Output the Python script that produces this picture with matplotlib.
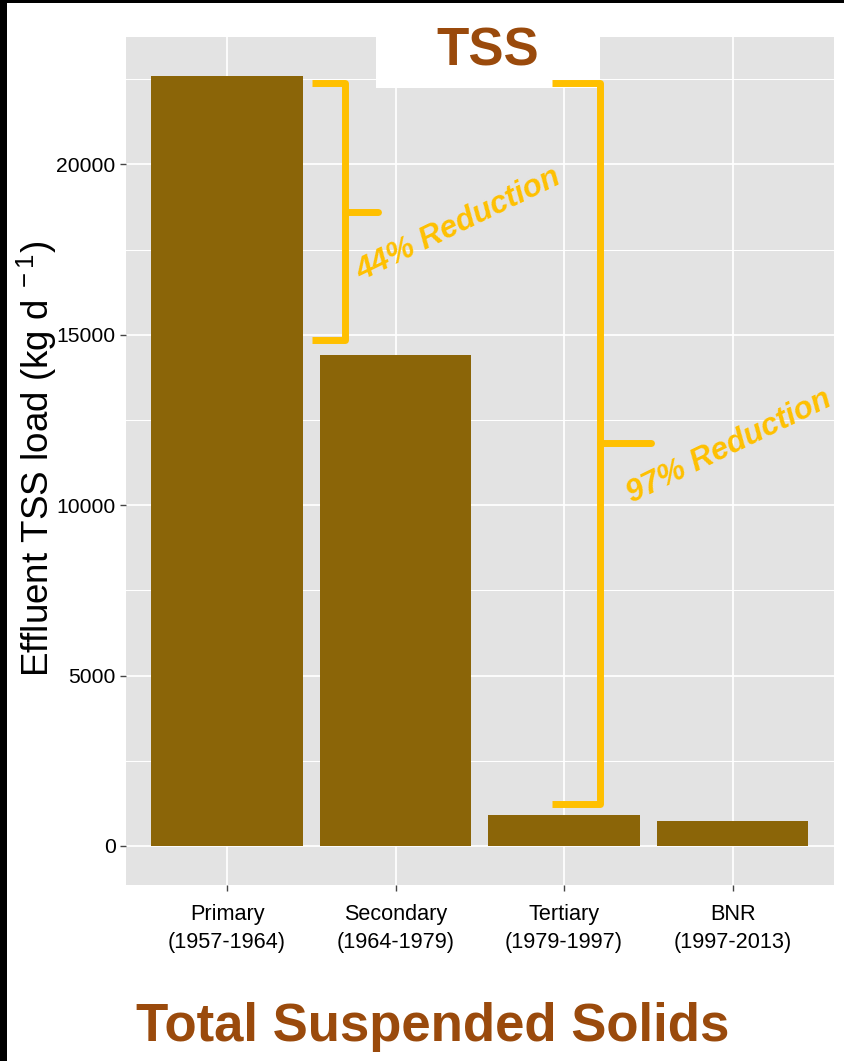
import matplotlib
matplotlib.use("Agg")
import matplotlib.pyplot as plt
from matplotlib import font_manager
from matplotlib.ticker import FixedLocator, MultipleLocator
from matplotlib.patches import Rectangle

# ---------------- data ----------------
categories = ["Primary\n(1957-1964)", "Secondary\n(1964-1979)",
              "Tertiary\n(1979-1997)", "BNR\n(1997-2013)"]
tss_load = [22600, 14420, 900, 725]
y_ticks = [0, 5000, 10000, 15000, 20000]
reduction_labels = ["44% Reduction", "97% Reduction"]
title_top = "TSS"
title_bottom = "Total Suspended Solids"
y_label = r"Effluent TSS load (kg d$^{\ -1}$)"

# ---------------- style ----------------
BAR = "#8B6508"
GOLD = "#FFC000"
BROWN = "#9A4A0C"
PANEL = "#E3E3E3"

names = {f.name for f in font_manager.fontManager.ttflist}
NARROW = "Liberation Sans Narrow" in names
base = "Liberation Sans"
tick_family = "Liberation Sans Narrow" if NARROW else base
ytick_size = 17.4 if NARROW else 15.2
xtick_size = 17.9 if NARROW else 15.6

plt.rcParams["font.family"] = [base, "DejaVu Sans"]
plt.rcParams["mathtext.fontset"] = "custom"
plt.rcParams["mathtext.rm"] = base
plt.rcParams["mathtext.it"] = base + ":italic"
plt.rcParams["mathtext.bf"] = base + ":bold"

W, H = 844, 1061
fig = plt.figure(figsize=(W / 100, H / 100), dpi=100)
fig.patch.set_facecolor("white")

def fx(px):
    return px / W

def fy(py):
    return 1 - py / H

ax_l, ax_r, ax_t, ax_b = 126, 833.7, 37.3, 884.5
ax = fig.add_axes([fx(ax_l), fy(ax_b), (ax_r - ax_l) / W, (ax_b - ax_t) / H])
ax.set_facecolor(PANEL)

xpos = list(range(1, len(categories) + 1))
ax.bar(xpos, tss_load, width=0.9, color=BAR, zorder=2)

ymax = max(tss_load)
ax.set_ylim(-0.05 * ymax, 1.05 * ymax)
ax.set_xlim(0.4, len(categories) + 0.6)

ax.yaxis.set_major_locator(FixedLocator(y_ticks))
ax.yaxis.set_minor_locator(MultipleLocator(2500))
ax.set_xticks(xpos)
ax.set_xticklabels(categories, fontsize=xtick_size, family=tick_family,
                   linespacing=1.42)
ax.set_yticklabels([str(v) for v in y_ticks], fontsize=ytick_size,
                   family=tick_family)
ax.tick_params(axis="both", which="major", length=4.3, width=1.0,
               color="#444444", labelcolor="black")
ax.tick_params(axis="y", which="major", pad=3.2)
ax.tick_params(axis="x", which="major", pad=10)
ax.tick_params(which="minor", length=0)

ax.grid(which="major", axis="both", color="white", lw=1.25, zorder=0)
ax.grid(which="minor", axis="y", color="white", lw=0.75, zorder=0)
ax.set_axisbelow(True)
for s in ax.spines.values():
    s.set_visible(False)

# ---------------- brackets ----------------
def bracket(x_left, x_v, x_tick, y_top, y_bot, y_tick):
    ax.plot([x_left, x_v, x_v, x_left], [y_top, y_top, y_bot, y_bot],
            color=GOLD, lw=5.0, solid_joinstyle="round",
            solid_capstyle="butt", zorder=6, clip_on=False)
    ax.plot([x_v, x_tick], [y_tick, y_tick], color=GOLD, lw=5.0,
            solid_capstyle="round", zorder=6, clip_on=False)

bracket(1.504, 1.697, 1.895, tss_load[0] - 220, tss_load[1] + 430, 18612)
bracket(2.926, 3.213, 3.515, tss_load[0] - 225, tss_load[2] + 340, 11816)

ax.text(fx(459), fy(225), reduction_labels[0], transform=fig.transFigure,
        rotation=26, rotation_mode="anchor", ha="center", va="center",
        fontsize=22.5, fontweight="bold", fontstyle="italic", color=GOLD,
        zorder=7)
ax.text(fx(729), fy(447), reduction_labels[1], transform=fig.transFigure,
        rotation=26, rotation_mode="anchor", ha="center", va="center",
        fontsize=22.5, fontweight="bold", fontstyle="italic", color=GOLD,
        zorder=7)

# ---------------- title box ----------------
box = Rectangle((fx(375.5), fy(87.7)), (599.5 - 375.5) / W, (87.7 - 2.7) / H,
                transform=fig.transFigure, facecolor="white", edgecolor="none",
                zorder=5, clip_on=False)
ax.add_patch(box)
ax.text(fx(488), fy(66), title_top, transform=fig.transFigure,
        ha="center", va="baseline", fontsize=38, fontweight="bold",
        color=BROWN, zorder=8)

# ---------------- y label ----------------
fig.text(fx(37), fy(459), y_label, rotation=90, ha="center", va="center",
         fontsize=26.5, color="black")

# ---------------- bottom title ----------------
fig.text(fx(432.5), fy(1041), title_bottom, ha="center", va="baseline",
         fontsize=38, fontweight="bold", color=BROWN)

# ---------------- black frame strips ----------------
fig.patches.append(Rectangle((0, 0), 7 / W, 1, transform=fig.transFigure,
                             facecolor="black", edgecolor="none", zorder=10))
fig.patches.append(Rectangle((0, 1 - 3.3 / H), 1, 3.3 / H,
                             transform=fig.transFigure, facecolor="black",
                             edgecolor="none", zorder=10))

fig.savefig("out.png", dpi=100, facecolor=fig.get_facecolor())
